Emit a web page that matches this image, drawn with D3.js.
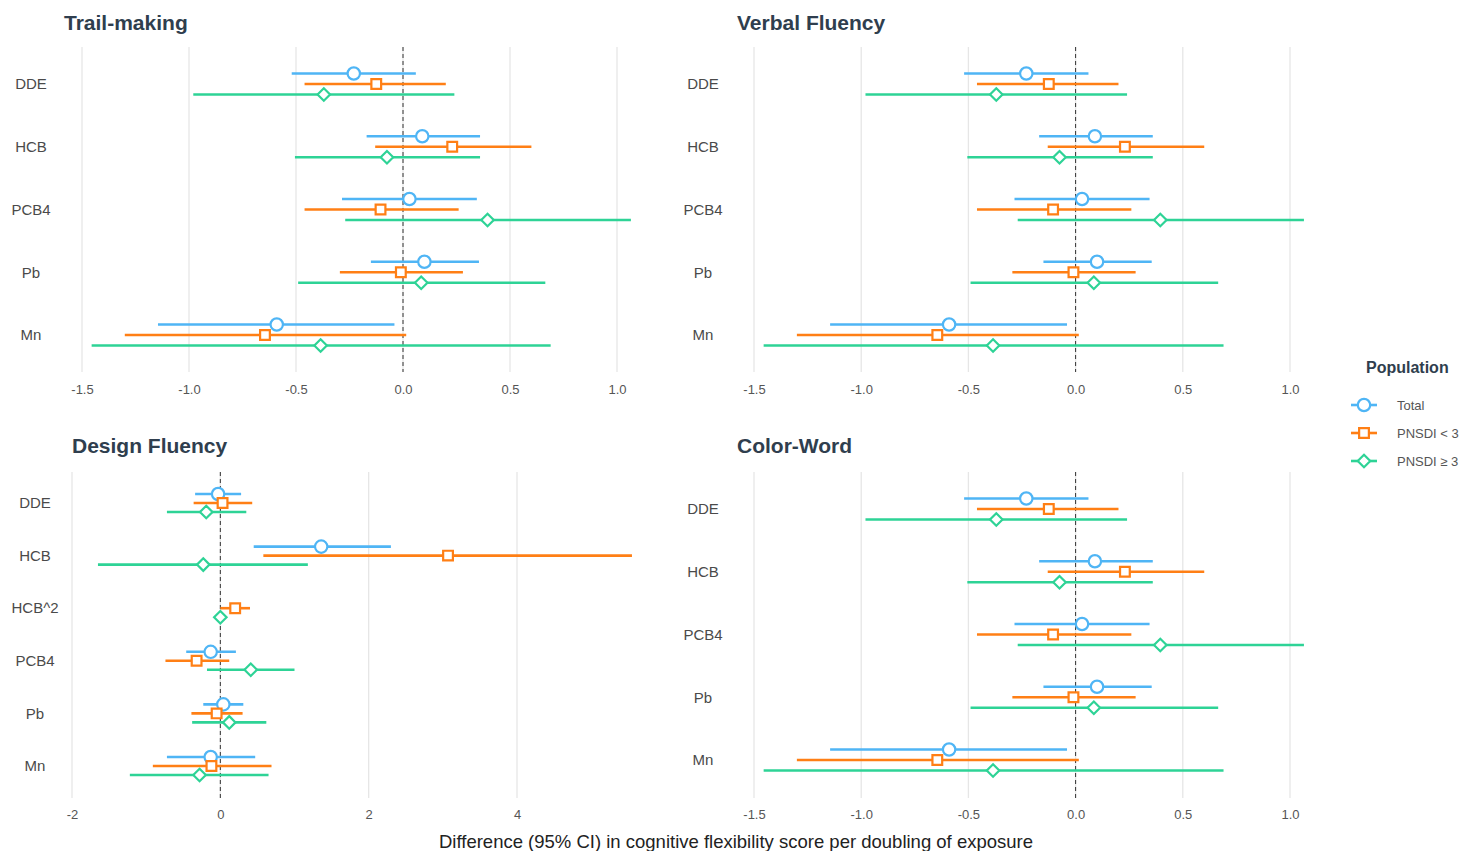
<!DOCTYPE html>
<html>
<head>
<meta charset="utf-8">
<script src="https://cdn.jsdelivr.net/npm/d3@7"></script>
<style>
    body {
        margin: 0;
        background: #ffffff;
        font-family: "Liberation Sans", Arial, sans-serif;
    }
    .panelTitle {
        font-size: 21px;
        font-weight: bold;
        fill: #2f3e4e;
    }
    .rowLabel {
        font-size: 15px;
        fill: #4a4a4a;
    }
</style>
</head>
<body>
<svg id="chart" width="1459" height="851"></svg>
<script>
    // exposures (rows) and populations (series)
    const exposures = ["DDE", "HCB", "PCB4", "Pb", "Mn"];
    const designExposures = ["DDE", "HCB", "HCB^2", "PCB4", "Pb", "Mn"];
    const populations = ["Total", "PNSDI < 3", "PNSDI \u2265 3"];
    const popColors = ["#4fb5f5", "#ff7f15", "#2ed396"];

    // Trail-making / Verbal Fluency / Color-Word (same estimates in the figure)
    const totalEst = [-0.23, 0.09, 0.03, 0.10, -0.59];
    const totalLo = [-0.52, -0.17, -0.285, -0.15, -1.145];
    const totalHi = [0.06, 0.36, 0.345, 0.355, -0.04];
    const lowEst = [-0.125, 0.23, -0.105, -0.01, -0.645];
    const lowLo = [-0.46, -0.13, -0.46, -0.295, -1.30];
    const lowHi = [0.20, 0.60, 0.26, 0.28, 0.015];
    const highEst = [-0.37, -0.075, 0.395, 0.085, -0.385];
    const highLo = [-0.98, -0.505, -0.27, -0.49, -1.455];
    const highHi = [0.24, 0.36, 1.065, 0.665, 0.69];

    // Design Fluency (no Total estimate for HCB^2)
    const dfTotalEst = [-0.03, 1.36, null, -0.13, 0.04, -0.13];
    const dfTotalLo = [-0.34, 0.45, null, -0.46, -0.23, -0.72];
    const dfTotalHi = [0.28, 2.30, null, 0.21, 0.31, 0.47];
    const dfLowEst = [0.03, 3.07, 0.20, -0.32, -0.05, -0.12];
    const dfLowLo = [-0.36, 0.58, 0.0, -0.74, -0.39, -0.91];
    const dfLowHi = [0.43, 5.55, 0.40, 0.12, 0.30, 0.69];
    const dfHighEst = [-0.19, -0.23, 0.0, 0.41, 0.12, -0.28];
    const dfHighLo = [-0.72, -1.65, -0.01, -0.18, -0.38, -1.22];
    const dfHighHi = [0.35, 1.18, 0.01, 1.0, 0.62, 0.65];

    const cogTicks = [-1.5, -1.0, -0.5, 0.0, 0.5, 1.0];
    const designTicks = [-2, 0, 2, 4];

    function buildRows(names, est, lo, hi) {
        const rows = [];
        names.forEach(function(n, i) {
            for (let p = 0; p < 3; p++) {
                if (est[p][i] === null) continue;
                rows.push({ exposure: n, pop: p, est: est[p][i], lo: lo[p][i], hi: hi[p][i] });
            }
        });
        return rows;
    }

    const cogRows = buildRows(exposures,
        [totalEst, lowEst, highEst], [totalLo, lowLo, highLo], [totalHi, lowHi, highHi]);
    const designRows = buildRows(designExposures,
        [dfTotalEst, dfLowEst, dfHighEst], [dfTotalLo, dfLowLo, dfHighLo], [dfTotalHi, dfLowHi, dfHighHi]);

    const panels = [
        { title: "Trail-making", rows: cogRows, cats: exposures, domain: [-1.5, 1.0], ticks: cogTicks, fmt: d => d.toFixed(1),
          xr: [82, 617], yr: [84, 335], off: 10.5, gTop: 47, gBot: 372, tickY: 385, titleX: 64, titleY: 30, labX: 31 },
        { title: "Verbal Fluency", rows: cogRows, cats: exposures, domain: [-1.5, 1.0], ticks: cogTicks, fmt: d => d.toFixed(1),
          xr: [754, 1290], yr: [84, 335], off: 10.5, gTop: 47, gBot: 372, tickY: 385, titleX: 737, titleY: 30, labX: 703 },
        { title: "Design Fluency", rows: designRows, cats: designExposures, domain: [-2, 4], ticks: designTicks, fmt: d => String(d),
          xr: [72, 517], yr: [503, 766], off: 9, gTop: 472, gBot: 798, tickY: 810, titleX: 72, titleY: 453, labX: 35 },
        { title: "Color-Word", rows: cogRows, cats: exposures, domain: [-1.5, 1.0], ticks: cogTicks, fmt: d => d.toFixed(1),
          xr: [754, 1290], yr: [509, 760], off: 10.5, gTop: 472, gBot: 798, tickY: 810, titleX: 737, titleY: 453, labX: 703 }
    ];

    const svg = d3.select("#chart");

    // marker shapes per population
    const shapes = [d3.symbolCircle, d3.symbolSquare, d3.symbolDiamond2];
    const sizes = [120, 95, 100];
    function marker(sel, p) {
        sel.append("path")
            .attr("d", d3.symbol().type(shapes[p]).size(sizes[p]))
            .attr("fill", "#fff")
            .attr("stroke", popColors[p])
            .attr("stroke-width", 2.2);
    }

    panels.forEach(function(pn) {
        const g = svg.append("g");
        const x = d3.scaleLinear().domain(pn.domain).range(pn.xr);
        const y = d3.scalePoint().domain(pn.cats).range(pn.yr);
        const yOff = d3.scalePoint().domain([0, 1, 2]).range([-pn.off, pn.off]);

        // vertical grid lines
        g.selectAll(".grid").data(pn.ticks).join("line")
            .attr("x1", d => x(d)).attr("x2", d => x(d))
            .attr("y1", pn.gTop).attr("y2", pn.gBot)
            .attr("stroke", "#e6e6e6").attr("stroke-width", 1.3);

        // x axis tick labels
        const ax = g.append("g")
            .attr("transform", "translate(0," + pn.tickY + ")")
            .call(d3.axisBottom(x).tickValues(pn.ticks).tickFormat(pn.fmt).tickSize(0).tickPadding(0));
        ax.select(".domain").remove();
        ax.selectAll("text").attr("fill", "#555").attr("font-size", 13)
            .attr("font-family", "Liberation Sans, Arial, sans-serif");

        // zero reference line
        g.append("line")
            .attr("x1", x(0)).attr("x2", x(0))
            .attr("y1", pn.gTop).attr("y2", pn.gBot)
            .attr("stroke", "#333").attr("stroke-width", 1)
            .attr("stroke-dasharray", "4,3");

        // row labels
        g.selectAll(".rowLabel").data(pn.cats).join("text")
            .attr("class", "rowLabel")
            .attr("x", pn.labX).attr("y", d => y(d))
            .attr("dy", "0.35em")
            .attr("text-anchor", "middle")
            .text(d => d);

        // CI lines
        g.selectAll(".ci").data(pn.rows).join("line")
            .attr("x1", d => x(d.lo)).attr("x2", d => x(d.hi))
            .attr("y1", d => y(d.exposure) + yOff(d.pop))
            .attr("y2", d => y(d.exposure) + yOff(d.pop))
            .attr("stroke", d => popColors[d.pop])
            .attr("stroke-width", 2.6);

        // point estimates
        g.selectAll(".pt").data(pn.rows).join("g")
            .attr("transform", d => "translate(" + x(d.est) + "," + (y(d.exposure) + yOff(d.pop)) + ")")
            .each(function(d) { marker(d3.select(this), d.pop); });

        // panel title
        g.append("text")
            .attr("class", "panelTitle")
            .attr("x", pn.titleX).attr("y", pn.titleY)
            .text(pn.title);
    });

    // shared x axis title
    svg.append("text")
        .attr("x", 736).attr("y", 848)
        .attr("text-anchor", "middle")
        .attr("font-size", 18.5)
        .attr("fill", "#222")
        .text("Difference (95% CI) in cognitive flexibility score per doubling of exposure");

    // legend
    const leg = svg.append("g");
    leg.append("text")
        .attr("x", 1366).attr("y", 373)
        .attr("font-size", 16).attr("font-weight", "bold").attr("fill", "#2f3e4e")
        .text("Population");
    populations.forEach(function(name, p) {
        const ly = 405 + p * 28;
        leg.append("line")
            .attr("x1", 1351).attr("x2", 1377).attr("y1", ly).attr("y2", ly)
            .attr("stroke", popColors[p]).attr("stroke-width", 2.6);
        const m = leg.append("g").attr("transform", "translate(1364," + ly + ")");
        marker(m, p);
        leg.append("text")
            .attr("x", 1397).attr("y", ly).attr("dy", "0.35em")
            .attr("font-size", 13).attr("fill", "#555")
            .text(name);
    });
</script>
</body>
</html>
